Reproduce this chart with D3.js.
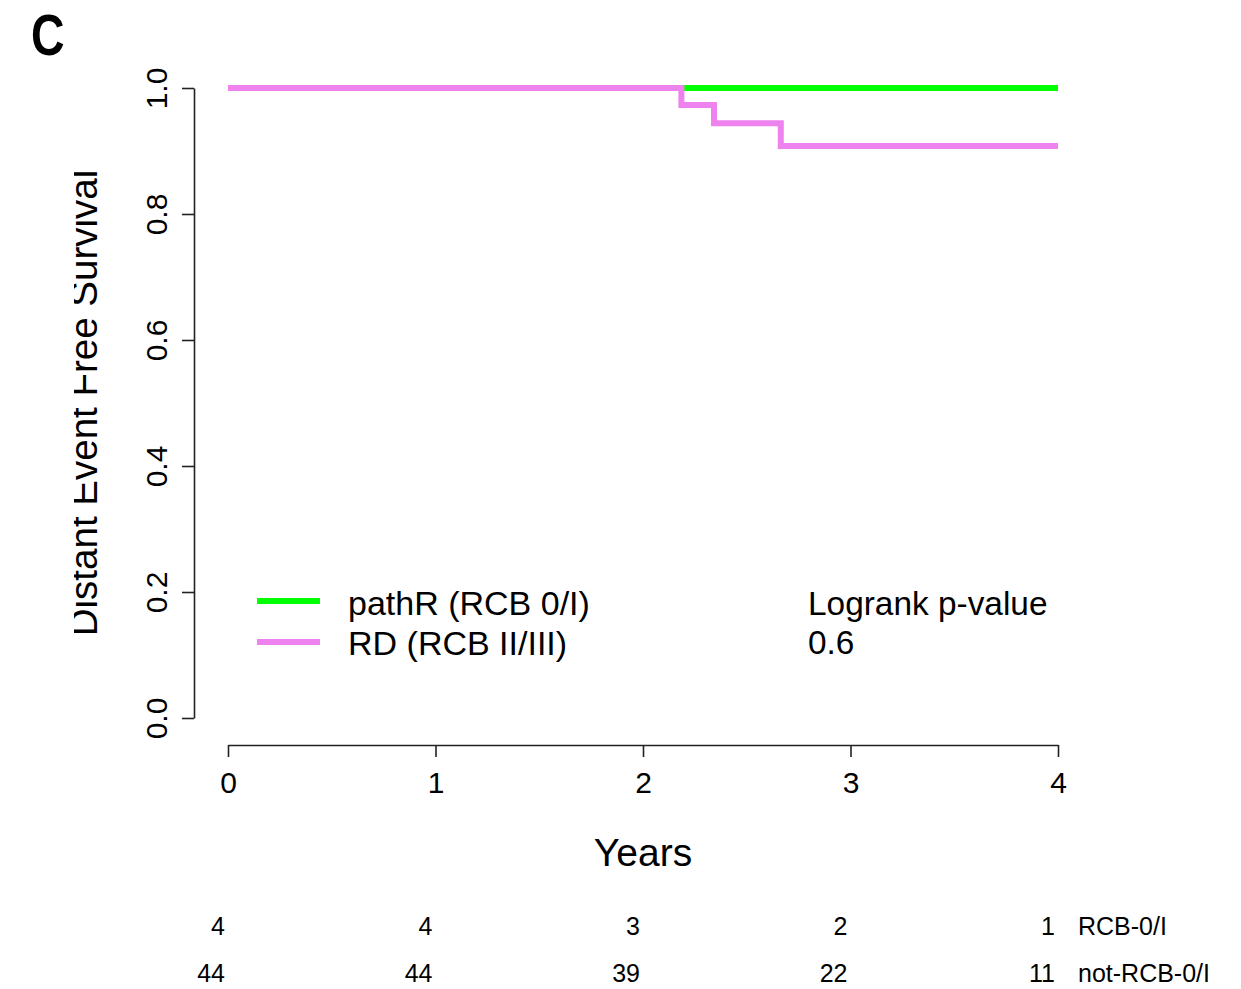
<!DOCTYPE html>
<html>
<head>
<meta charset="utf-8">
<script src="https://cdn.jsdelivr.net/npm/d3@7"></script>
<style>
  html, body { margin: 0; padding: 0; background: #fff; }
  svg { display: block; font-family: "Liberation Sans", Arial, sans-serif; }
</style>
</head>
<body>
<svg id="chart" width="1241" height="989"></svg>
<script>
// Kaplan-Meier curves: distant event free survival by residual cancer burden
const pathRTimes = [0, 4];
const pathRSurv = [1, 1];
const rdTimes = [0, 2.185, 2.342, 2.664, 4];
const rdSurv = [1, 0.973, 0.944, 0.908, 0.908];

const xTicks = [0, 1, 2, 3, 4];
const yTicks = [0, 0.2, 0.4, 0.6, 0.8, 1.0];

// numbers at risk at each x tick
const riskGroups = ["RCB-0/I", "not-RCB-0/I"];
const riskPathR = [4, 4, 3, 2, 1];
const riskRD = [44, 44, 39, 22, 11];

const legendLabels = ["pathR (RCB 0/I)", "RD (RCB II/III)"];
const seriesColors = ["#00ff00", "#ee82ee"];
const pLabel = "Logrank p-value";
const pValue = "0.6";

const svg = d3.select("#chart");

const x = d3.scaleLinear().domain([0, 4]).range([228, 1058]);
const y = d3.scaleLinear().domain([0, 1]).range([718, 88]);

const axisColor = "#222";

// panel letter (slightly condensed bold)
svg.append("text")
  .attr("transform", "translate(31,55) scale(0.8,1)")
  .attr("font-size", 58).attr("font-weight", "bold")
  .text("C");

// y axis (offset left of the plot region)
const yAxisG = svg.append("g")
  .attr("transform", "translate(194,0)")
  .call(d3.axisLeft(y).tickValues(yTicks).tickFormat(d3.format(".1f"))
    .tickSize(12).tickSizeOuter(0));
yAxisG.select(".domain").attr("stroke", axisColor).attr("stroke-width", 1.6);
yAxisG.selectAll(".tick line").attr("stroke", axisColor).attr("stroke-width", 1.6);
yAxisG.selectAll(".tick text")
  .attr("x", 0).attr("dy", 0)
  .attr("text-anchor", "middle")
  .attr("transform", "translate(-27,0) rotate(-90)")
  .attr("font-size", 30).attr("fill", "#000")
  .attr("font-family", "Liberation Sans, Arial, sans-serif");

// x axis (offset below the plot region)
const xAxisG = svg.append("g")
  .attr("transform", "translate(0,745)")
  .call(d3.axisBottom(x).tickValues(xTicks).tickFormat(d3.format("d"))
    .tickSize(12).tickSizeOuter(0).tickPadding(15));
xAxisG.select(".domain").attr("stroke", axisColor).attr("stroke-width", 1.6);
xAxisG.selectAll(".tick line").attr("stroke", axisColor).attr("stroke-width", 1.6);
xAxisG.selectAll(".tick text")
  .attr("font-size", 30).attr("fill", "#000")
  .attr("font-family", "Liberation Sans, Arial, sans-serif");

// axis titles; the y title is clipped at the page margin
svg.append("clipPath").attr("id", "ylabClip")
  .append("rect").attr("x", 74).attr("y", 0).attr("width", 100).attr("height", 989);
svg.append("g")
  .attr("clip-path", "url(#ylabClip)")
  .append("text")
  .attr("transform", `translate(97,${(y(0) + y(1)) / 2}) rotate(-90)`)
  .attr("text-anchor", "middle")
  .attr("font-size", 38.5)
  .text("Distant Event Free Survival");

svg.append("text")
  .attr("x", (x(0) + x(4)) / 2).attr("y", 866)
  .attr("text-anchor", "middle")
  .attr("font-size", 39)
  .text("Years");

// survival curves
const line = d3.line()
  .x(d => x(d[0])).y(d => y(d[1]))
  .curve(d3.curveStepAfter);

const curves = [
  d3.zip(pathRTimes, pathRSurv),
  d3.zip(rdTimes, rdSurv)
];
svg.append("g").selectAll("path")
  .data(curves)
  .join("path")
  .attr("d", line)
  .attr("fill", "none")
  .attr("stroke", (d, i) => seriesColors[i])
  .attr("stroke-width", 6)
  .attr("stroke-linejoin", "miter")
  .attr("stroke-linecap", "butt");

// legend
const legend = svg.append("g");
legendLabels.forEach((lab, i) => {
  const ly = 601 + i * 41;
  legend.append("line")
    .attr("x1", 257).attr("x2", 320)
    .attr("y1", ly).attr("y2", ly)
    .attr("stroke", seriesColors[i]).attr("stroke-width", 6);
  legend.append("text")
    .attr("x", 348).attr("y", 615 + i * 40)
    .attr("font-size", 34)
    .text(lab);
});

// log-rank annotation
svg.append("text").attr("x", 808).attr("y", 615).attr("font-size", 33.4).text(pLabel);
svg.append("text").attr("x", 808).attr("y", 654).attr("font-size", 33.4).text(pValue);

// numbers at risk
const riskRows = [riskPathR, riskRD];
const riskBaselines = [935, 982];
riskRows.forEach((row, r) => {
  const g = svg.append("g");
  g.selectAll("text.n")
    .data(row)
    .join("text")
    .attr("class", "n")
    .attr("x", (d, i) => x(xTicks[i]) - 3)
    .attr("y", riskBaselines[r])
    .attr("text-anchor", "end")
    .attr("font-size", 25)
    .text(d => d);
  g.append("text")
    .attr("x", 1078).attr("y", riskBaselines[r])
    .attr("font-size", 25)
    .text(riskGroups[r]);
});
</script>
</body>
</html>
